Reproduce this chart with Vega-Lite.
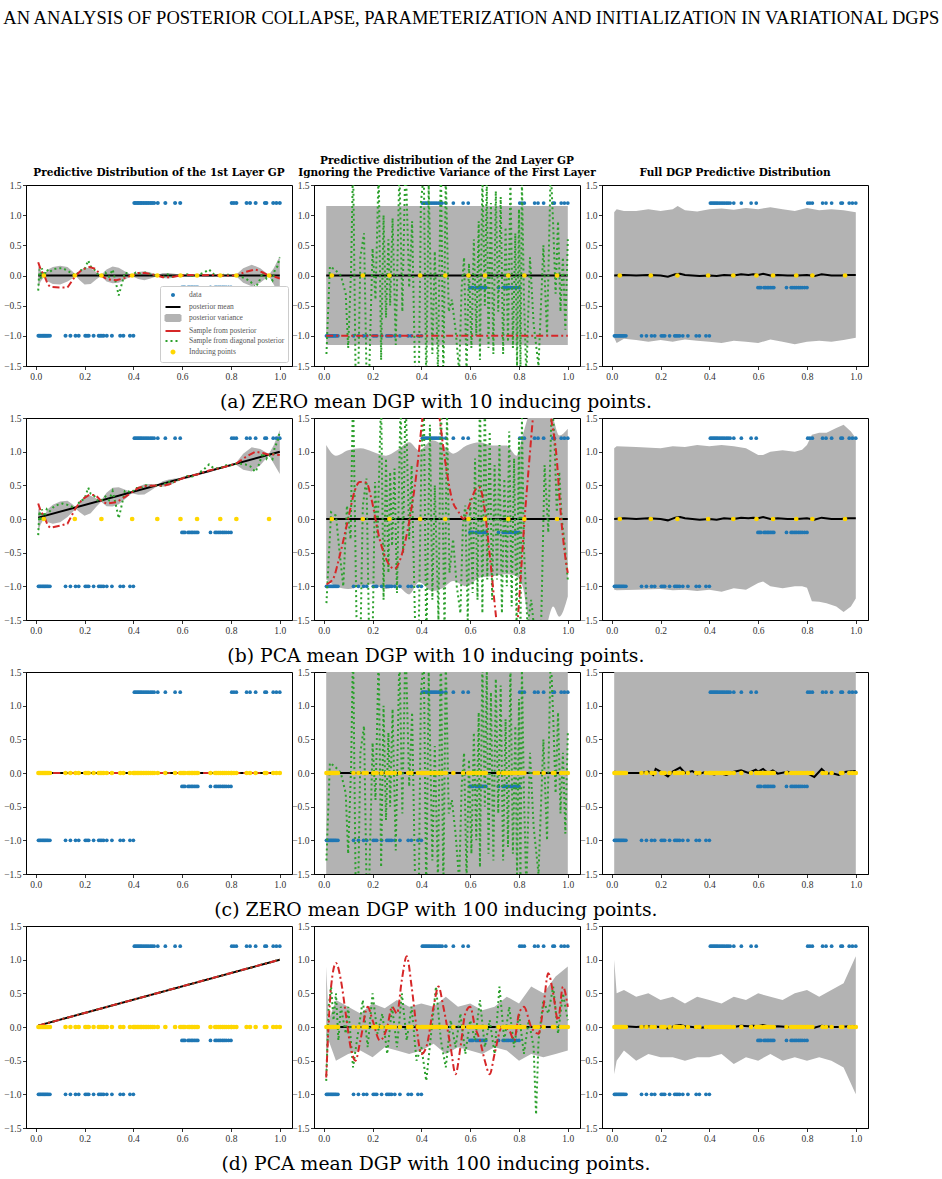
{
"$schema": "https://vega.github.io/schema/vega-lite/v6.json",
"background": "white",
"padding": {"left": 3, "top": 8, "right": 5, "bottom": 2},
"title": {"text": "AN ANALYSIS OF POSTERIOR COLLAPSE, PARAMETERIZATION AND INITIALIZATION IN VARIATIONAL DGPS", "font": "Liberation Serif", "fontSize": 18.5, "fontWeight": "normal", "anchor": "start", "offset": 128},
"spacing": 0,
"resolve": {"legend": {"fill": "independent", "stroke": "independent", "shape": "independent", "strokeDash": "independent"}},
"vconcat": [
{"title": {"text": "(a) ZERO mean DGP with 10 inducing points.", "orient": "bottom", "anchor": "middle", "font": "DejaVu Serif", "fontSize": 18.8, "fontWeight": "normal", "offset": 12},
 "bounds": "flush", "spacing": 22,
 "resolve": {"legend": {"fill": "independent", "stroke": "independent", "shape": "independent", "strokeDash": "independent"}},
 "hconcat": [
  {"width": 266, "height": 181, "title": {"text": "Predictive Distribution of the 1st Layer GP"},
   "encoding": {"x": {"field": "x", "type": "quantitative", "title": null, "scale": {"domain": [-0.04, 1.05], "nice": false, "zero": false}, "axis": {"values": [0, 0.2, 0.4, 0.6, 0.8, 1], "format": ".1f"}},
                "y": {"field": "y", "type": "quantitative", "title": null, "scale": {"domain": [-1.5, 1.5], "nice": false, "zero": false}, "axis": {"values": [-1.5, -1, -0.5, 0, 0.5, 1, 1.5], "format": ".1f"}}},
   "layer": [
    {"data": {"name": "a1_band"}, "mark": {"type": "area", "color": "#b3b3b3", "opacity": 1, "clip": true}, "encoding": {"y": {"field": "lo", "type": "quantitative", "title": null, "scale": {"domain": [-1.5, 1.5], "nice": false, "zero": false}}, "y2": {"field": "hi"}}},
    {"data": {"name": "obs"}, "mark": {"type": "point", "filled": true, "opacity": 1, "size": 100},
     "encoding": {
      "fill": {"field": "s", "type": "nominal", "scale": {"domain": ["data", "posterior mean", "posterior variance", "Sample from posterior", "Sample from diagonal posterior", "Inducing points"], "range": ["#1f77b4", "#000000", "#b3b3b3", "#d62728", "#2ca02c", "#ffd700"]}, "legend": {"title": null}},
      "stroke": {"field": "s", "type": "nominal", "scale": {"domain": ["data", "posterior mean", "posterior variance", "Sample from posterior", "Sample from diagonal posterior", "Inducing points"], "range": ["transparent", "#000000", "#b3b3b3", "#d62728", "#2ca02c", "transparent"]}, "legend": {"title": null}},
      "shape": {"field": "s", "type": "nominal", "scale": {"domain": ["data", "posterior mean", "posterior variance", "Sample from posterior", "Sample from diagonal posterior", "Inducing points"], "range": ["M0.4,0A0.4,0.4,0,1,1,-0.4,0A0.4,0.4,0,1,1,0.4,0Z", "M-1.5,0L1.5,0", "M-1.5,-0.6L1.5,-0.6L1.5,0.6L-1.5,0.6Z", "M-1.5,0L1.5,0", "M-1.5,0L1.5,0", "M0.5,0A0.5,0.5,0,1,1,-0.5,0A0.5,0.5,0,1,1,0.5,0Z"]}, "legend": {"title": null}},
      "strokeDash": {"field": "s", "type": "nominal", "scale": {"domain": ["data", "posterior mean", "posterior variance", "Sample from posterior", "Sample from diagonal posterior", "Inducing points"], "range": [[1, 0], [1, 0], [1, 0], [1, 0], [2, 3], [1, 0]]}, "legend": {"title": null}}
     }},
    {"data": {"name": "zero"}, "mark": {"type": "line", "color": "black", "strokeWidth": 2, "clip": true}, "encoding": {}},
    {"data": {"name": "a1_green"}, "mark": {"type": "line", "color": "#2ca02c", "strokeWidth": 2, "strokeDash": [2, 3], "clip": true}, "encoding": {}},
    {"data": {"name": "a1_red"}, "mark": {"type": "line", "color": "#d62728", "strokeWidth": 2, "strokeDash": [7, 3, 2, 3], "clip": true}, "encoding": {}},
    {"data": {"name": "ind10"}, "mark": {"type": "point", "shape": "circle", "filled": true, "color": "#ffd700", "opacity": 1, "size": 22}}
   ]},
  {"width": 266, "height": 181, "title": {"text": ["Predictive distribution of the 2nd Layer GP", "Ignoring the Predictive Variance of the First Layer"], "lineHeight": 12},
   "encoding": {"x": {"field": "x", "type": "quantitative", "title": null, "scale": {"domain": [-0.04, 1.05], "nice": false, "zero": false}, "axis": {"values": [0, 0.2, 0.4, 0.6, 0.8, 1], "format": ".1f"}},
                "y": {"field": "y", "type": "quantitative", "title": null, "scale": {"domain": [-1.5, 1.5], "nice": false, "zero": false}, "axis": {"values": [-1.5, -1, -0.5, 0, 0.5, 1, 1.5], "format": ".1f"}}},
   "layer": [
    {"data": {"name": "a2_band"}, "mark": {"type": "area", "color": "#b3b3b3", "opacity": 1, "clip": true}, "encoding": {"y": {"field": "lo", "type": "quantitative", "title": null, "scale": {"domain": [-1.5, 1.5], "nice": false, "zero": false}}, "y2": {"field": "hi"}}},
    {"data": {"name": "obs"}, "mark": {"type": "point", "shape": "circle", "filled": true, "color": "#1f77b4", "opacity": 1, "size": 14}},
    {"data": {"name": "zero"}, "mark": {"type": "line", "color": "black", "strokeWidth": 2, "clip": true}, "encoding": {}},
    {"data": {"name": "wild1"}, "mark": {"type": "line", "color": "#2ca02c", "strokeWidth": 2, "strokeDash": [2, 3], "clip": true}, "encoding": {}},
    {"data": {"name": "a2_red"}, "mark": {"type": "line", "color": "#d62728", "strokeWidth": 2, "strokeDash": [7, 3, 2, 3], "clip": true}, "encoding": {}},
    {"data": {"name": "ind10"}, "mark": {"type": "point", "shape": "circle", "filled": true, "color": "#ffd700", "opacity": 1, "size": 22}}
   ]},
  {"width": 266, "height": 181, "title": {"text": "Full DGP Predictive Distribution"},
   "encoding": {"x": {"field": "x", "type": "quantitative", "title": null, "scale": {"domain": [-0.04, 1.05], "nice": false, "zero": false}, "axis": {"values": [0, 0.2, 0.4, 0.6, 0.8, 1], "format": ".1f"}},
                "y": {"field": "y", "type": "quantitative", "title": null, "scale": {"domain": [-1.5, 1.5], "nice": false, "zero": false}, "axis": {"values": [-1.5, -1, -0.5, 0, 0.5, 1, 1.5], "format": ".1f"}}},
   "layer": [
    {"data": {"name": "a3_band"}, "mark": {"type": "area", "color": "#b3b3b3", "opacity": 1, "clip": true}, "encoding": {"y": {"field": "lo", "type": "quantitative", "title": null, "scale": {"domain": [-1.5, 1.5], "nice": false, "zero": false}}, "y2": {"field": "hi"}}},
    {"data": {"name": "obs"}, "mark": {"type": "point", "shape": "circle", "filled": true, "color": "#1f77b4", "opacity": 1, "size": 14}},
    {"data": {"name": "a3_mean"}, "mark": {"type": "line", "color": "black", "strokeWidth": 2, "clip": true}, "encoding": {}},
    {"data": {"name": "ind10"}, "mark": {"type": "point", "shape": "circle", "filled": true, "color": "#ffd700", "opacity": 1, "size": 22}}
   ]}
 ]},
{"title": {"text": "(b) PCA mean DGP with 10 inducing points.", "orient": "bottom", "anchor": "middle", "font": "DejaVu Serif", "fontSize": 18.8, "fontWeight": "normal", "offset": 12},
 "bounds": "flush", "spacing": 22,
 "hconcat": [
  {"width": 266, "height": 202,
   "encoding": {"x": {"field": "x", "type": "quantitative", "title": null, "scale": {"domain": [-0.04, 1.05], "nice": false, "zero": false}, "axis": {"values": [0, 0.2, 0.4, 0.6, 0.8, 1], "format": ".1f"}},
                "y": {"field": "y", "type": "quantitative", "title": null, "scale": {"domain": [-1.5, 1.5], "nice": false, "zero": false}, "axis": {"values": [-1.5, -1, -0.5, 0, 0.5, 1, 1.5], "format": ".1f"}}},
   "layer": [
    {"data": {"name": "b1_band"}, "mark": {"type": "area", "color": "#b3b3b3", "opacity": 1, "clip": true}, "encoding": {"y": {"field": "lo", "type": "quantitative", "title": null, "scale": {"domain": [-1.5, 1.5], "nice": false, "zero": false}}, "y2": {"field": "hi"}}},
    {"data": {"name": "obs"}, "mark": {"type": "point", "shape": "circle", "filled": true, "color": "#1f77b4", "opacity": 1, "size": 14}},
    {"data": {"name": "lin"}, "mark": {"type": "line", "color": "black", "strokeWidth": 2, "clip": true}, "encoding": {}},
    {"data": {"name": "b1_green"}, "mark": {"type": "line", "color": "#2ca02c", "strokeWidth": 2, "strokeDash": [2, 3], "clip": true}, "encoding": {}},
    {"data": {"name": "b1_red"}, "mark": {"type": "line", "color": "#d62728", "strokeWidth": 2, "strokeDash": [7, 3, 2, 3], "clip": true}, "encoding": {}},
    {"data": {"name": "ind10"}, "mark": {"type": "point", "shape": "circle", "filled": true, "color": "#ffd700", "opacity": 1, "size": 22}}
   ]},
  {"width": 266, "height": 202,
   "encoding": {"x": {"field": "x", "type": "quantitative", "title": null, "scale": {"domain": [-0.04, 1.05], "nice": false, "zero": false}, "axis": {"values": [0, 0.2, 0.4, 0.6, 0.8, 1], "format": ".1f"}},
                "y": {"field": "y", "type": "quantitative", "title": null, "scale": {"domain": [-1.5, 1.5], "nice": false, "zero": false}, "axis": {"values": [-1.5, -1, -0.5, 0, 0.5, 1, 1.5], "format": ".1f"}}},
   "layer": [
    {"data": {"name": "b2_band"}, "mark": {"type": "area", "color": "#b3b3b3", "opacity": 1, "clip": true, "interpolate": "monotone"}, "encoding": {"y": {"field": "lo", "type": "quantitative", "title": null, "scale": {"domain": [-1.5, 1.5], "nice": false, "zero": false}}, "y2": {"field": "hi"}}},
    {"data": {"name": "obs"}, "mark": {"type": "point", "shape": "circle", "filled": true, "color": "#1f77b4", "opacity": 1, "size": 14}},
    {"data": {"name": "zero"}, "mark": {"type": "line", "color": "black", "strokeWidth": 2, "clip": true}, "encoding": {}},
    {"data": {"name": "wild2"}, "mark": {"type": "line", "color": "#2ca02c", "strokeWidth": 2, "strokeDash": [2, 3], "clip": true}, "encoding": {}},
    {"data": {"name": "b2_red"}, "mark": {"type": "line", "color": "#d62728", "strokeWidth": 2, "strokeDash": [7, 3, 2, 3], "clip": true, "interpolate": "monotone"}, "encoding": {}},
    {"data": {"name": "ind10"}, "mark": {"type": "point", "shape": "circle", "filled": true, "color": "#ffd700", "opacity": 1, "size": 22}}
   ]},
  {"width": 266, "height": 202,
   "encoding": {"x": {"field": "x", "type": "quantitative", "title": null, "scale": {"domain": [-0.04, 1.05], "nice": false, "zero": false}, "axis": {"values": [0, 0.2, 0.4, 0.6, 0.8, 1], "format": ".1f"}},
                "y": {"field": "y", "type": "quantitative", "title": null, "scale": {"domain": [-1.5, 1.5], "nice": false, "zero": false}, "axis": {"values": [-1.5, -1, -0.5, 0, 0.5, 1, 1.5], "format": ".1f"}}},
   "layer": [
    {"data": {"name": "b3_band"}, "mark": {"type": "area", "color": "#b3b3b3", "opacity": 1, "clip": true}, "encoding": {"y": {"field": "lo", "type": "quantitative", "title": null, "scale": {"domain": [-1.5, 1.5], "nice": false, "zero": false}}, "y2": {"field": "hi"}}},
    {"data": {"name": "obs"}, "mark": {"type": "point", "shape": "circle", "filled": true, "color": "#1f77b4", "opacity": 1, "size": 14}},
    {"data": {"name": "a3_mean"}, "mark": {"type": "line", "color": "black", "strokeWidth": 2, "clip": true}, "encoding": {}},
    {"data": {"name": "ind10"}, "mark": {"type": "point", "shape": "circle", "filled": true, "color": "#ffd700", "opacity": 1, "size": 22}}
   ]}
 ]},
{"title": {"text": "(c) ZERO mean DGP with 100 inducing points.", "orient": "bottom", "anchor": "middle", "font": "DejaVu Serif", "fontSize": 18.8, "fontWeight": "normal", "offset": 12},
 "bounds": "flush", "spacing": 22,
 "hconcat": [
  {"width": 266, "height": 202,
   "encoding": {"x": {"field": "x", "type": "quantitative", "title": null, "scale": {"domain": [-0.04, 1.05], "nice": false, "zero": false}, "axis": {"values": [0, 0.2, 0.4, 0.6, 0.8, 1], "format": ".1f"}},
                "y": {"field": "y", "type": "quantitative", "title": null, "scale": {"domain": [-1.5, 1.5], "nice": false, "zero": false}, "axis": {"values": [-1.5, -1, -0.5, 0, 0.5, 1, 1.5], "format": ".1f"}}},
   "layer": [
    {"data": {"name": "obs"}, "mark": {"type": "point", "shape": "circle", "filled": true, "color": "#1f77b4", "opacity": 1, "size": 14}},
    {"data": {"name": "zero"}, "mark": {"type": "line", "color": "black", "strokeWidth": 2, "clip": true}, "encoding": {}},
    {"data": {"name": "zero"}, "mark": {"type": "line", "color": "#2ca02c", "strokeWidth": 2, "strokeDash": [2, 3], "clip": true}, "encoding": {}},
    {"data": {"name": "zero"}, "mark": {"type": "line", "color": "#d62728", "strokeWidth": 2, "strokeDash": [7, 3, 2, 3], "clip": true}, "encoding": {}},
    {"data": {"name": "ind100"}, "mark": {"type": "point", "shape": "circle", "filled": true, "color": "#ffd700", "opacity": 1, "size": 22}}
   ]},
  {"width": 266, "height": 202,
   "encoding": {"x": {"field": "x", "type": "quantitative", "title": null, "scale": {"domain": [-0.04, 1.05], "nice": false, "zero": false}, "axis": {"values": [0, 0.2, 0.4, 0.6, 0.8, 1], "format": ".1f"}},
                "y": {"field": "y", "type": "quantitative", "title": null, "scale": {"domain": [-1.5, 1.5], "nice": false, "zero": false}, "axis": {"values": [-1.5, -1, -0.5, 0, 0.5, 1, 1.5], "format": ".1f"}}},
   "layer": [
    {"data": {"name": "full_band"}, "mark": {"type": "area", "color": "#b3b3b3", "opacity": 1, "clip": true}, "encoding": {"y": {"field": "lo", "type": "quantitative", "title": null, "scale": {"domain": [-1.5, 1.5], "nice": false, "zero": false}}, "y2": {"field": "hi"}}},
    {"data": {"name": "obs"}, "mark": {"type": "point", "shape": "circle", "filled": true, "color": "#1f77b4", "opacity": 1, "size": 14}},
    {"data": {"name": "zero"}, "mark": {"type": "line", "color": "black", "strokeWidth": 2, "clip": true}, "encoding": {}},
    {"data": {"name": "wild1"}, "mark": {"type": "line", "color": "#2ca02c", "strokeWidth": 2, "strokeDash": [2, 3], "clip": true}, "encoding": {}},
    {"data": {"name": "ind100"}, "mark": {"type": "point", "shape": "circle", "filled": true, "color": "#ffd700", "opacity": 1, "size": 22}}
   ]},
  {"width": 266, "height": 202,
   "encoding": {"x": {"field": "x", "type": "quantitative", "title": null, "scale": {"domain": [-0.04, 1.05], "nice": false, "zero": false}, "axis": {"values": [0, 0.2, 0.4, 0.6, 0.8, 1], "format": ".1f"}},
                "y": {"field": "y", "type": "quantitative", "title": null, "scale": {"domain": [-1.5, 1.5], "nice": false, "zero": false}, "axis": {"values": [-1.5, -1, -0.5, 0, 0.5, 1, 1.5], "format": ".1f"}}},
   "layer": [
    {"data": {"name": "full_band"}, "mark": {"type": "area", "color": "#b3b3b3", "opacity": 1, "clip": true}, "encoding": {"y": {"field": "lo", "type": "quantitative", "title": null, "scale": {"domain": [-1.5, 1.5], "nice": false, "zero": false}}, "y2": {"field": "hi"}}},
    {"data": {"name": "obs"}, "mark": {"type": "point", "shape": "circle", "filled": true, "color": "#1f77b4", "opacity": 1, "size": 14}},
    {"data": {"name": "c3_mean"}, "mark": {"type": "line", "color": "black", "strokeWidth": 2, "clip": true}, "encoding": {}},
    {"data": {"name": "ind100"}, "mark": {"type": "point", "shape": "circle", "filled": true, "color": "#ffd700", "opacity": 1, "size": 22}}
   ]}
 ]},
{"title": {"text": "(d) PCA mean DGP with 100 inducing points.", "orient": "bottom", "anchor": "middle", "font": "DejaVu Serif", "fontSize": 18.8, "fontWeight": "normal", "offset": 12},
 "bounds": "flush", "spacing": 22,
 "hconcat": [
  {"width": 266, "height": 202,
   "encoding": {"x": {"field": "x", "type": "quantitative", "title": null, "scale": {"domain": [-0.04, 1.05], "nice": false, "zero": false}, "axis": {"values": [0, 0.2, 0.4, 0.6, 0.8, 1], "format": ".1f"}},
                "y": {"field": "y", "type": "quantitative", "title": null, "scale": {"domain": [-1.5, 1.5], "nice": false, "zero": false}, "axis": {"values": [-1.5, -1, -0.5, 0, 0.5, 1, 1.5], "format": ".1f"}}},
   "layer": [
    {"data": {"name": "obs"}, "mark": {"type": "point", "shape": "circle", "filled": true, "color": "#1f77b4", "opacity": 1, "size": 14}},
    {"data": {"name": "lin"}, "mark": {"type": "line", "color": "black", "strokeWidth": 2, "clip": true}, "encoding": {}},
    {"data": {"name": "lin"}, "mark": {"type": "line", "color": "#2ca02c", "strokeWidth": 2, "strokeDash": [2, 3], "clip": true}, "encoding": {}},
    {"data": {"name": "lin"}, "mark": {"type": "line", "color": "#d62728", "strokeWidth": 2, "strokeDash": [7, 3, 2, 3], "clip": true}, "encoding": {}},
    {"data": {"name": "ind100"}, "mark": {"type": "point", "shape": "circle", "filled": true, "color": "#ffd700", "opacity": 1, "size": 22}}
   ]},
  {"width": 266, "height": 202,
   "encoding": {"x": {"field": "x", "type": "quantitative", "title": null, "scale": {"domain": [-0.04, 1.05], "nice": false, "zero": false}, "axis": {"values": [0, 0.2, 0.4, 0.6, 0.8, 1], "format": ".1f"}},
                "y": {"field": "y", "type": "quantitative", "title": null, "scale": {"domain": [-1.5, 1.5], "nice": false, "zero": false}, "axis": {"values": [-1.5, -1, -0.5, 0, 0.5, 1, 1.5], "format": ".1f"}}},
   "layer": [
    {"data": {"name": "d2_band"}, "mark": {"type": "area", "color": "#b3b3b3", "opacity": 1, "clip": true}, "encoding": {"y": {"field": "lo", "type": "quantitative", "title": null, "scale": {"domain": [-1.5, 1.5], "nice": false, "zero": false}}, "y2": {"field": "hi"}}},
    {"data": {"name": "obs"}, "mark": {"type": "point", "shape": "circle", "filled": true, "color": "#1f77b4", "opacity": 1, "size": 14}},
    {"data": {"name": "zero"}, "mark": {"type": "line", "color": "black", "strokeWidth": 2, "clip": true}, "encoding": {}},
    {"data": {"name": "d2_green"}, "mark": {"type": "line", "color": "#2ca02c", "strokeWidth": 2, "strokeDash": [2, 3], "clip": true}, "encoding": {}},
    {"data": {"name": "d2_red"}, "mark": {"type": "line", "color": "#d62728", "strokeWidth": 2, "strokeDash": [7, 3, 2, 3], "clip": true, "interpolate": "monotone"}, "encoding": {}},
    {"data": {"name": "ind100"}, "mark": {"type": "point", "shape": "circle", "filled": true, "color": "#ffd700", "opacity": 1, "size": 22}}
   ]},
  {"width": 266, "height": 202,
   "encoding": {"x": {"field": "x", "type": "quantitative", "title": null, "scale": {"domain": [-0.04, 1.05], "nice": false, "zero": false}, "axis": {"values": [0, 0.2, 0.4, 0.6, 0.8, 1], "format": ".1f"}},
                "y": {"field": "y", "type": "quantitative", "title": null, "scale": {"domain": [-1.5, 1.5], "nice": false, "zero": false}, "axis": {"values": [-1.5, -1, -0.5, 0, 0.5, 1, 1.5], "format": ".1f"}}},
   "layer": [
    {"data": {"name": "d3_band"}, "mark": {"type": "area", "color": "#b3b3b3", "opacity": 1, "clip": true}, "encoding": {"y": {"field": "lo", "type": "quantitative", "title": null, "scale": {"domain": [-1.5, 1.5], "nice": false, "zero": false}}, "y2": {"field": "hi"}}},
    {"data": {"name": "obs"}, "mark": {"type": "point", "shape": "circle", "filled": true, "color": "#1f77b4", "opacity": 1, "size": 14}},
    {"data": {"name": "a3_mean"}, "mark": {"type": "line", "color": "black", "strokeWidth": 2, "clip": true}, "encoding": {}},
    {"data": {"name": "ind100"}, "mark": {"type": "point", "shape": "circle", "filled": true, "color": "#ffd700", "opacity": 1, "size": 22}}
   ]}
 ]}
],
"datasets": {
"obs": [
{"x":0.011,"y":-1,"s":"data"},{"x":0.016,"y":-1,"s":"data"},{"x":0.021,"y":-1,"s":"data"},{"x":0.026,"y":-1,"s":"data"},{"x":0.031,"y":-1,"s":"data"},{"x":0.036,"y":-1,"s":"data"},{"x":0.041,"y":-1,"s":"data"},{"x":0.046,"y":-1,"s":"data"},{"x":0.051,"y":-1,"s":"data"},{"x":0.058,"y":-1,"s":"data"},{"x":0.122,"y":-1,"s":"data"},{"x":0.142,"y":-1,"s":"data"},{"x":0.163,"y":-1,"s":"data"},{"x":0.176,"y":-1,"s":"data"},{"x":0.203,"y":-1,"s":"data"},{"x":0.21,"y":-1,"s":"data"},{"x":0.217,"y":-1,"s":"data"},{"x":0.237,"y":-1,"s":"data"},{"x":0.258,"y":-1,"s":"data"},{"x":0.264,"y":-1,"s":"data"},{"x":0.271,"y":-1,"s":"data"},{"x":0.278,"y":-1,"s":"data"},{"x":0.291,"y":-1,"s":"data"},{"x":0.312,"y":-1,"s":"data"},{"x":0.346,"y":-1,"s":"data"},{"x":0.359,"y":-1,"s":"data"},{"x":0.386,"y":-1,"s":"data"},{"x":0.4,"y":-1,"s":"data"},
{"x":0.404,"y":1.2,"s":"data"},{"x":0.41,"y":1.2,"s":"data"},{"x":0.416,"y":1.2,"s":"data"},{"x":0.422,"y":1.2,"s":"data"},{"x":0.428,"y":1.2,"s":"data"},{"x":0.434,"y":1.2,"s":"data"},{"x":0.441,"y":1.2,"s":"data"},{"x":0.448,"y":1.2,"s":"data"},{"x":0.455,"y":1.2,"s":"data"},{"x":0.462,"y":1.2,"s":"data"},{"x":0.47,"y":1.2,"s":"data"},{"x":0.477,"y":1.2,"s":"data"},{"x":0.485,"y":1.2,"s":"data"},{"x":0.5,"y":1.2,"s":"data"},{"x":0.531,"y":1.2,"s":"data"},{"x":0.571,"y":1.2,"s":"data"},{"x":0.592,"y":1.2,"s":"data"},
{"x":0.599,"y":-0.2,"s":"data"},{"x":0.605,"y":-0.2,"s":"data"},{"x":0.611,"y":-0.2,"s":"data"},{"x":0.624,"y":-0.2,"s":"data"},{"x":0.63,"y":-0.2,"s":"data"},{"x":0.637,"y":-0.2,"s":"data"},{"x":0.643,"y":-0.2,"s":"data"},{"x":0.65,"y":-0.2,"s":"data"},{"x":0.657,"y":-0.2,"s":"data"},{"x":0.664,"y":-0.2,"s":"data"},{"x":0.716,"y":-0.2,"s":"data"},{"x":0.735,"y":-0.2,"s":"data"},{"x":0.742,"y":-0.2,"s":"data"},{"x":0.75,"y":-0.2,"s":"data"},{"x":0.757,"y":-0.2,"s":"data"},{"x":0.765,"y":-0.2,"s":"data"},{"x":0.772,"y":-0.2,"s":"data"},{"x":0.78,"y":-0.2,"s":"data"},{"x":0.79,"y":-0.2,"s":"data"},{"x":0.8,"y":-0.2,"s":"data"},
{"x":0.803,"y":1.2,"s":"data"},{"x":0.812,"y":1.2,"s":"data"},{"x":0.822,"y":1.2,"s":"data"},{"x":0.864,"y":1.2,"s":"data"},{"x":0.878,"y":1.2,"s":"data"},{"x":0.901,"y":1.2,"s":"data"},{"x":0.939,"y":1.2,"s":"data"},{"x":0.945,"y":1.2,"s":"data"},{"x":0.973,"y":1.2,"s":"data"},{"x":0.986,"y":1.2,"s":"data"},{"x":1.0,"y":1.2,"s":"data"}
],
"ind10": [{"x":0.033,"y":0},{"x":0.16,"y":0},{"x":0.269,"y":0},{"x":0.395,"y":0},{"x":0.498,"y":0},{"x":0.593,"y":0},{"x":0.661,"y":0},{"x":0.756,"y":0},{"x":0.822,"y":0},{"x":0.956,"y":0}],
"ind100": [
{"x":0.011,"y":0},{"x":0.016,"y":0},{"x":0.021,"y":0},{"x":0.026,"y":0},{"x":0.031,"y":0},{"x":0.036,"y":0},{"x":0.041,"y":0},{"x":0.046,"y":0},{"x":0.051,"y":0},{"x":0.058,"y":0},{"x":0.122,"y":0},{"x":0.142,"y":0},{"x":0.163,"y":0},{"x":0.176,"y":0},{"x":0.203,"y":0},{"x":0.21,"y":0},{"x":0.217,"y":0},{"x":0.237,"y":0},{"x":0.258,"y":0},{"x":0.264,"y":0},{"x":0.271,"y":0},{"x":0.278,"y":0},{"x":0.291,"y":0},{"x":0.312,"y":0},{"x":0.346,"y":0},{"x":0.359,"y":0},{"x":0.386,"y":0},{"x":0.4,"y":0},
{"x":0.404,"y":0},{"x":0.41,"y":0},{"x":0.416,"y":0},{"x":0.422,"y":0},{"x":0.428,"y":0},{"x":0.434,"y":0},{"x":0.441,"y":0},{"x":0.448,"y":0},{"x":0.455,"y":0},{"x":0.462,"y":0},{"x":0.47,"y":0},{"x":0.477,"y":0},{"x":0.485,"y":0},{"x":0.5,"y":0},{"x":0.531,"y":0},{"x":0.571,"y":0},{"x":0.592,"y":0},
{"x":0.599,"y":0},{"x":0.605,"y":0},{"x":0.611,"y":0},{"x":0.624,"y":0},{"x":0.63,"y":0},{"x":0.637,"y":0},{"x":0.643,"y":0},{"x":0.65,"y":0},{"x":0.657,"y":0},{"x":0.664,"y":0},{"x":0.716,"y":0},{"x":0.735,"y":0},{"x":0.742,"y":0},{"x":0.75,"y":0},{"x":0.757,"y":0},{"x":0.765,"y":0},{"x":0.772,"y":0},{"x":0.78,"y":0},{"x":0.79,"y":0},{"x":0.8,"y":0},
{"x":0.803,"y":0},{"x":0.812,"y":0},{"x":0.822,"y":0},{"x":0.864,"y":0},{"x":0.878,"y":0},{"x":0.901,"y":0},{"x":0.939,"y":0},{"x":0.945,"y":0},{"x":0.973,"y":0},{"x":0.986,"y":0},{"x":1.0,"y":0}
],
"zero": [{"x":0.01,"y":0},{"x":1.0,"y":0}],
"lin": [{"x":0.01,"y":0.02},{"x":1.0,"y":1.0}],
"a1_band": [
{"x":0.01,"lo":-0.2,"hi":0.15},{"x":0.02,"lo":-0.1,"hi":0.08},{"x":0.035,"lo":-0.02,"hi":0.02},{"x":0.05,"lo":-0.1,"hi":0.1},{"x":0.07,"lo":-0.14,"hi":0.14},{"x":0.1,"lo":-0.15,"hi":0.16},{"x":0.13,"lo":-0.1,"hi":0.14},{"x":0.15,"lo":-0.05,"hi":0.07},{"x":0.164,"lo":-0.01,"hi":0.01},{"x":0.18,"lo":-0.08,"hi":0.08},{"x":0.2,"lo":-0.15,"hi":0.13},{"x":0.225,"lo":-0.14,"hi":0.12},{"x":0.25,"lo":-0.06,"hi":0.05},{"x":0.268,"lo":-0.01,"hi":0.01},{"x":0.29,"lo":-0.1,"hi":0.1},{"x":0.315,"lo":-0.13,"hi":0.15},{"x":0.34,"lo":-0.12,"hi":0.13},{"x":0.37,"lo":-0.06,"hi":0.06},{"x":0.393,"lo":-0.01,"hi":0.01},{"x":0.42,"lo":-0.06,"hi":0.06},{"x":0.445,"lo":-0.08,"hi":0.07},{"x":0.47,"lo":-0.05,"hi":0.05},{"x":0.499,"lo":-0.01,"hi":0.01},{"x":0.52,"lo":-0.04,"hi":0.04},{"x":0.545,"lo":-0.05,"hi":0.04},{"x":0.57,"lo":-0.03,"hi":0.03},{"x":0.593,"lo":-0.01,"hi":0.01},{"x":0.627,"lo":-0.02,"hi":0.02},{"x":0.661,"lo":-0.01,"hi":0.01},{"x":0.71,"lo":-0.02,"hi":0.02},{"x":0.756,"lo":-0.01,"hi":0.01},{"x":0.79,"lo":-0.015,"hi":0.015},{"x":0.82,"lo":-0.01,"hi":0.01},{"x":0.85,"lo":-0.12,"hi":0.12},{"x":0.885,"lo":-0.18,"hi":0.18},{"x":0.92,"lo":-0.12,"hi":0.12},{"x":0.955,"lo":-0.01,"hi":0.01},{"x":0.975,"lo":-0.15,"hi":0.12},{"x":1.0,"lo":-0.33,"hi":0.32}
],
"a1_red": [
{"x":0.01,"y":0.22},{"x":0.02,"y":0.1},{"x":0.035,"y":0.0},{"x":0.05,"y":-0.15},{"x":0.06,"y":-0.19},{"x":0.1,"y":-0.2},{"x":0.13,"y":-0.2},{"x":0.15,"y":-0.08},{"x":0.164,"y":0.0},{"x":0.19,"y":0.1},{"x":0.22,"y":0.14},{"x":0.245,"y":0.11},{"x":0.268,"y":0.0},{"x":0.29,"y":-0.06},{"x":0.33,"y":-0.08},{"x":0.365,"y":-0.04},{"x":0.393,"y":0.0},{"x":0.42,"y":0.04},{"x":0.45,"y":0.04},{"x":0.475,"y":0.02},{"x":0.499,"y":0.0},{"x":0.52,"y":-0.03},{"x":0.55,"y":-0.03},{"x":0.593,"y":0.0},{"x":0.63,"y":0.01},{"x":0.661,"y":0.0},{"x":0.71,"y":0.01},{"x":0.756,"y":0.0},{"x":0.79,"y":0.0},{"x":0.82,"y":0.0},{"x":0.86,"y":0.06},{"x":0.9,"y":0.1},{"x":0.93,"y":0.05},{"x":0.955,"y":0.0},{"x":0.98,"y":-0.02},{"x":1.0,"y":-0.05}
],
"a1_green": [
{"x":0.01,"y":-0.25},{"x":0.015,"y":0.1},{"x":0.02,"y":-0.05},{"x":0.025,"y":0.12},{"x":0.035,"y":0.0},{"x":0.045,"y":0.1},{"x":0.055,"y":0.05},{"x":0.07,"y":0.1},{"x":0.09,"y":0.12},{"x":0.11,"y":0.12},{"x":0.13,"y":0.08},{"x":0.15,"y":0.03},{"x":0.164,"y":0.0},{"x":0.18,"y":0.08},{"x":0.2,"y":0.1},{"x":0.215,"y":0.25},{"x":0.225,"y":0.15},{"x":0.24,"y":0.1},{"x":0.255,"y":0.02},{"x":0.268,"y":0.0},{"x":0.285,"y":0.05},{"x":0.3,"y":-0.02},{"x":0.315,"y":0.1},{"x":0.33,"y":-0.15},{"x":0.34,"y":-0.33},{"x":0.35,"y":-0.18},{"x":0.365,"y":0.05},{"x":0.38,"y":0.03},{"x":0.393,"y":0.0},{"x":0.41,"y":0.05},{"x":0.43,"y":0.03},{"x":0.45,"y":0.05},{"x":0.47,"y":0.02},{"x":0.499,"y":0.0},{"x":0.52,"y":-0.03},{"x":0.54,"y":0.02},{"x":0.56,"y":-0.02},{"x":0.593,"y":0.0},{"x":0.62,"y":0.02},{"x":0.64,"y":-0.01},{"x":0.661,"y":0.0},{"x":0.69,"y":0.05},{"x":0.71,"y":0.1},{"x":0.73,"y":0.02},{"x":0.756,"y":0.0},{"x":0.78,"y":0.02},{"x":0.8,"y":0.0},{"x":0.82,"y":0.0},{"x":0.84,"y":-0.02},{"x":0.86,"y":-0.05},{"x":0.88,"y":-0.1},{"x":0.9,"y":-0.2},{"x":0.915,"y":-0.1},{"x":0.93,"y":0.05},{"x":0.945,"y":-0.05},{"x":0.955,"y":0.0},{"x":0.97,"y":-0.08},{"x":0.98,"y":0.1},{"x":0.99,"y":0.15},{"x":1.0,"y":0.3}
],
"a2_band": [{"x":0.01,"lo":-1.15,"hi":1.15},{"x":1.0,"lo":-1.15,"hi":1.15}],
"a2_red": [{"x":0.01,"y":-1.0},{"x":1.0,"y":-1.0}],
"wild1": [
{"x":0.011,"y":-1.3},{"x":0.025,"y":0.15},{"x":0.045,"y":0.1},{"x":0.07,"y":0.0},{"x":0.09,"y":-0.3},{"x":0.1,"y":-1.2},{"x":0.112,"y":0.1},{"x":0.12,"y":1.9},{"x":0.13,"y":-1.5},{"x":0.14,"y":-2.0},{"x":0.15,"y":0.3},{"x":0.165,"y":0.7},{"x":0.175,"y":-1.6},{"x":0.185,"y":-1.8},{"x":0.2,"y":0.45},{"x":0.212,"y":-0.4},{"x":0.225,"y":1.8},{"x":0.235,"y":-1.4},{"x":0.245,"y":1.0},{"x":0.255,"y":-0.7},{"x":0.265,"y":0.6},{"x":0.272,"y":-0.5},{"x":0.282,"y":0.95},{"x":0.295,"y":-1.15},{"x":0.31,"y":1.8},{"x":0.322,"y":-0.6},{"x":0.335,"y":2.0},{"x":0.35,"y":-0.2},{"x":0.362,"y":0.9},{"x":0.375,"y":-1.8},{"x":0.39,"y":-1.6},{"x":0.398,"y":1.2},{"x":0.41,"y":1.7},{"x":0.42,"y":-1.9},{"x":0.43,"y":1.5},{"x":0.445,"y":-1.3},{"x":0.455,"y":0.4},{"x":0.468,"y":-1.6},{"x":0.48,"y":1.9},{"x":0.49,"y":-1.8},{"x":0.5,"y":1.7},{"x":0.512,"y":-0.6},{"x":0.525,"y":-0.4},{"x":0.54,"y":-0.9},{"x":0.555,"y":-1.6},{"x":0.565,"y":-0.2},{"x":0.575,"y":0.3},{"x":0.585,"y":-1.6},{"x":0.595,"y":0.2},{"x":0.605,"y":-1.2},{"x":0.615,"y":0.6},{"x":0.625,"y":-1.0},{"x":0.635,"y":0.9},{"x":0.64,"y":-1.4},{"x":0.65,"y":1.7},{"x":0.66,"y":-0.5},{"x":0.668,"y":1.6},{"x":0.675,"y":-1.2},{"x":0.685,"y":1.2},{"x":0.695,"y":-1.3},{"x":0.705,"y":1.4},{"x":0.715,"y":-0.6},{"x":0.725,"y":1.3},{"x":0.735,"y":-1.3},{"x":0.745,"y":0.8},{"x":0.755,"y":-1.1},{"x":0.765,"y":1.6},{"x":0.775,"y":-1.2},{"x":0.785,"y":0.7},{"x":0.792,"y":-1.5},{"x":0.8,"y":1.1},{"x":0.806,"y":-1.6},{"x":0.812,"y":1.6},{"x":0.82,"y":-0.3},{"x":0.83,"y":-1.7},{"x":0.845,"y":0.3},{"x":0.86,"y":-0.8},{"x":0.88,"y":-1.5},{"x":0.9,"y":0.5},{"x":0.915,"y":-1.0},{"x":0.93,"y":1.8},{"x":0.94,"y":0.85},{"x":0.95,"y":-0.3},{"x":0.96,"y":0.9},{"x":0.97,"y":-0.6},{"x":0.98,"y":0.3},{"x":0.99,"y":-0.9},{"x":1.0,"y":0.6}
],
"a3_band": [
{"x":0.01,"lo":-1.03,"hi":1.05},{"x":0.02,"lo":-1.12,"hi":1.1},{"x":0.05,"lo":-1.05,"hi":1.07},{"x":0.1,"lo":-1.07,"hi":1.07},{"x":0.15,"lo":-1.1,"hi":1.1},{"x":0.2,"lo":-1.07,"hi":1.07},{"x":0.25,"lo":-1.1,"hi":1.1},{"x":0.27,"lo":-1.08,"hi":1.15},{"x":0.3,"lo":-1.06,"hi":1.08},{"x":0.35,"lo":-1.08,"hi":1.06},{"x":0.4,"lo":-1.1,"hi":1.1},{"x":0.45,"lo":-1.12,"hi":1.11},{"x":0.5,"lo":-1.08,"hi":1.09},{"x":0.55,"lo":-1.1,"hi":1.12},{"x":0.6,"lo":-1.12,"hi":1.1},{"x":0.65,"lo":-1.06,"hi":1.13},{"x":0.7,"lo":-1.1,"hi":1.1},{"x":0.75,"lo":-1.14,"hi":1.07},{"x":0.8,"lo":-1.1,"hi":1.12},{"x":0.85,"lo":-1.08,"hi":1.08},{"x":0.9,"lo":-1.1,"hi":1.1},{"x":0.95,"lo":-1.07,"hi":1.08},{"x":1.0,"lo":-1.03,"hi":1.05}
],
"a3_mean": [
{"x":0.01,"y":0.0},{"x":0.05,"y":0.01},{"x":0.1,"y":0.0},{"x":0.15,"y":0.01},{"x":0.2,"y":0.0},{"x":0.23,"y":-0.02},{"x":0.26,"y":0.02},{"x":0.28,"y":0.03},{"x":0.3,"y":0.01},{"x":0.33,"y":0.0},{"x":0.36,"y":-0.01},{"x":0.4,"y":0.0},{"x":0.43,"y":-0.01},{"x":0.46,"y":0.01},{"x":0.5,"y":0.0},{"x":0.53,"y":0.02},{"x":0.56,"y":0.01},{"x":0.58,"y":0.02},{"x":0.6,"y":0.01},{"x":0.62,"y":0.03},{"x":0.65,"y":0.0},{"x":0.68,"y":0.01},{"x":0.72,"y":0.0},{"x":0.76,"y":0.0},{"x":0.8,"y":0.01},{"x":0.83,"y":-0.01},{"x":0.86,"y":0.02},{"x":0.9,"y":0.0},{"x":0.94,"y":0.0},{"x":0.97,"y":0.01},{"x":1.0,"y":0.01}
],
"b1_band": [
{"x":0.01,"lo":-0.19,"hi":0.16},{"x":0.02,"lo":-0.08,"hi":0.1},{"x":0.035,"lo":0.015,"hi":0.055},{"x":0.05,"lo":-0.05,"hi":0.15},{"x":0.07,"lo":-0.07,"hi":0.21},{"x":0.1,"lo":-0.05,"hi":0.26},{"x":0.13,"lo":0.03,"hi":0.27},{"x":0.15,"lo":0.1,"hi":0.22},{"x":0.164,"lo":0.154,"hi":0.174},{"x":0.18,"lo":0.1,"hi":0.26},{"x":0.2,"lo":0.05,"hi":0.33},{"x":0.225,"lo":0.085,"hi":0.345},{"x":0.25,"lo":0.19,"hi":0.3},{"x":0.268,"lo":0.258,"hi":0.278},{"x":0.29,"lo":0.19,"hi":0.39},{"x":0.315,"lo":0.185,"hi":0.465},{"x":0.34,"lo":0.22,"hi":0.47},{"x":0.37,"lo":0.31,"hi":0.43},{"x":0.393,"lo":0.383,"hi":0.403},{"x":0.42,"lo":0.36,"hi":0.48},{"x":0.445,"lo":0.365,"hi":0.515},{"x":0.47,"lo":0.42,"hi":0.52},{"x":0.499,"lo":0.489,"hi":0.509},{"x":0.52,"lo":0.48,"hi":0.56},{"x":0.545,"lo":0.495,"hi":0.585},{"x":0.57,"lo":0.54,"hi":0.6},{"x":0.593,"lo":0.583,"hi":0.603},{"x":0.627,"lo":0.607,"hi":0.647},{"x":0.661,"lo":0.651,"hi":0.671},{"x":0.71,"lo":0.69,"hi":0.73},{"x":0.756,"lo":0.746,"hi":0.766},{"x":0.79,"lo":0.775,"hi":0.805},{"x":0.82,"lo":0.81,"hi":0.83},{"x":0.85,"lo":0.73,"hi":0.97},{"x":0.885,"lo":0.705,"hi":1.065},{"x":0.92,"lo":0.8,"hi":1.04},{"x":0.955,"lo":0.945,"hi":0.965},{"x":0.975,"lo":0.825,"hi":1.095},{"x":1.0,"lo":0.67,"hi":1.32}
],
"b1_red": [
{"x":0.01,"y":0.23},{"x":0.02,"y":0.12},{"x":0.035,"y":0.035},{"x":0.05,"y":-0.1},{"x":0.06,"y":-0.13},{"x":0.1,"y":-0.1},{"x":0.13,"y":-0.07},{"x":0.15,"y":0.07},{"x":0.164,"y":0.164},{"x":0.19,"y":0.29},{"x":0.22,"y":0.36},{"x":0.245,"y":0.355},{"x":0.268,"y":0.268},{"x":0.29,"y":0.23},{"x":0.33,"y":0.25},{"x":0.365,"y":0.325},{"x":0.393,"y":0.393},{"x":0.42,"y":0.46},{"x":0.45,"y":0.49},{"x":0.475,"y":0.495},{"x":0.499,"y":0.499},{"x":0.52,"y":0.49},{"x":0.55,"y":0.52},{"x":0.593,"y":0.593},{"x":0.63,"y":0.64},{"x":0.661,"y":0.661},{"x":0.71,"y":0.72},{"x":0.756,"y":0.756},{"x":0.79,"y":0.79},{"x":0.82,"y":0.82},{"x":0.86,"y":0.92},{"x":0.9,"y":1.0},{"x":0.93,"y":0.98},{"x":0.955,"y":0.955},{"x":0.98,"y":0.96},{"x":1.0,"y":0.95}
],
"b1_green": [
{"x":0.01,"y":-0.24},{"x":0.015,"y":0.115},{"x":0.02,"y":-0.03},{"x":0.025,"y":0.145},{"x":0.035,"y":0.035},{"x":0.045,"y":0.145},{"x":0.055,"y":0.105},{"x":0.07,"y":0.17},{"x":0.09,"y":0.21},{"x":0.11,"y":0.23},{"x":0.13,"y":0.21},{"x":0.15,"y":0.18},{"x":0.164,"y":0.164},{"x":0.18,"y":0.26},{"x":0.2,"y":0.3},{"x":0.215,"y":0.465},{"x":0.225,"y":0.375},{"x":0.24,"y":0.34},{"x":0.255,"y":0.275},{"x":0.268,"y":0.268},{"x":0.285,"y":0.335},{"x":0.3,"y":0.28},{"x":0.315,"y":0.415},{"x":0.33,"y":0.18},{"x":0.34,"y":0.01},{"x":0.35,"y":0.17},{"x":0.365,"y":0.415},{"x":0.38,"y":0.41},{"x":0.393,"y":0.393},{"x":0.41,"y":0.46},{"x":0.43,"y":0.46},{"x":0.45,"y":0.5},{"x":0.47,"y":0.49},{"x":0.499,"y":0.499},{"x":0.52,"y":0.49},{"x":0.54,"y":0.56},{"x":0.56,"y":0.54},{"x":0.593,"y":0.593},{"x":0.62,"y":0.64},{"x":0.64,"y":0.63},{"x":0.661,"y":0.661},{"x":0.69,"y":0.74},{"x":0.71,"y":0.81},{"x":0.73,"y":0.75},{"x":0.756,"y":0.756},{"x":0.78,"y":0.8},{"x":0.8,"y":0.8},{"x":0.82,"y":0.82},{"x":0.84,"y":0.82},{"x":0.86,"y":0.81},{"x":0.88,"y":0.78},{"x":0.9,"y":0.7},{"x":0.915,"y":0.815},{"x":0.93,"y":0.98},{"x":0.945,"y":0.895},{"x":0.955,"y":0.955},{"x":0.97,"y":0.89},{"x":0.98,"y":1.08},{"x":0.99,"y":1.14},{"x":1.0,"y":1.3}
],
"b2_band": [
{"x":0.01,"lo":-0.9,"hi":1.1},{"x":0.05,"lo":-1.0,"hi":0.94},{"x":0.1,"lo":-1.04,"hi":1.02},{"x":0.15,"lo":-1.0,"hi":1.05},{"x":0.2,"lo":-0.97,"hi":1.0},{"x":0.255,"lo":-1.04,"hi":0.94},{"x":0.3,"lo":-1.0,"hi":1.02},{"x":0.35,"lo":-1.12,"hi":1.14},{"x":0.39,"lo":-0.94,"hi":1.02},{"x":0.445,"lo":-1.07,"hi":1.17},{"x":0.49,"lo":-1.02,"hi":1.09},{"x":0.53,"lo":-0.92,"hi":0.97},{"x":0.585,"lo":-1.0,"hi":1.09},{"x":0.64,"lo":-0.87,"hi":1.14},{"x":0.69,"lo":-0.85,"hi":1.09},{"x":0.75,"lo":-0.82,"hi":1.09},{"x":0.79,"lo":-0.85,"hi":0.94},{"x":0.815,"lo":-1.0,"hi":1.24},{"x":0.84,"lo":-1.5,"hi":1.55},{"x":0.87,"lo":-1.7,"hi":1.8},{"x":0.91,"lo":-1.6,"hi":1.8},{"x":0.94,"lo":-1.3,"hi":1.5},{"x":0.965,"lo":-1.45,"hi":1.24},{"x":1.0,"lo":-1.15,"hi":1.34}
],
"b2_red": [
{"x":0.011,"y":-0.97},{"x":0.038,"y":-0.89},{"x":0.065,"y":-0.55},{"x":0.1,"y":0.0},{"x":0.127,"y":0.42},{"x":0.147,"y":0.55},{"x":0.175,"y":0.54},{"x":0.195,"y":0.3},{"x":0.229,"y":-0.3},{"x":0.263,"y":-0.65},{"x":0.29,"y":-0.74},{"x":0.318,"y":-0.55},{"x":0.352,"y":0.0},{"x":0.379,"y":0.65},{"x":0.404,"y":1.49},{"x":0.44,"y":2.6},{"x":0.475,"y":1.49},{"x":0.502,"y":0.75},{"x":0.529,"y":0.25},{"x":0.55,"y":0.12},{"x":0.573,"y":0.0},{"x":0.598,"y":0.22},{"x":0.625,"y":0.45},{"x":0.638,"y":0.47},{"x":0.659,"y":0.15},{"x":0.679,"y":-0.5},{"x":0.707,"y":-1.49},{"x":0.75,"y":-2.8},{"x":0.795,"y":-1.49},{"x":0.809,"y":-0.75},{"x":0.823,"y":0.0},{"x":0.843,"y":0.9},{"x":0.857,"y":1.5},{"x":0.895,"y":2.6},{"x":0.932,"y":1.49},{"x":0.952,"y":1.0},{"x":0.973,"y":0.0},{"x":0.993,"y":-0.65},{"x":1.0,"y":-0.8}
],
"wild2": [
{"x":0.011,"y":-1.25},{"x":0.03,"y":0.1},{"x":0.05,"y":0.05},{"x":0.065,"y":-0.5},{"x":0.08,"y":-1.0},{"x":0.095,"y":0.2},{"x":0.11,"y":-0.3},{"x":0.12,"y":1.9},{"x":0.135,"y":-1.7},{"x":0.15,"y":-1.9},{"x":0.16,"y":0.2},{"x":0.175,"y":0.6},{"x":0.185,"y":-1.6},{"x":0.2,"y":-1.8},{"x":0.21,"y":0.55},{"x":0.22,"y":-0.3},{"x":0.235,"y":1.8},{"x":0.245,"y":-1.2},{"x":0.255,"y":0.9},{"x":0.265,"y":-0.8},{"x":0.272,"y":0.7},{"x":0.28,"y":-0.4},{"x":0.29,"y":0.75},{"x":0.3,"y":-1.1},{"x":0.315,"y":1.8},{"x":0.325,"y":-0.5},{"x":0.335,"y":1.9},{"x":0.35,"y":-0.3},{"x":0.36,"y":0.8},{"x":0.375,"y":-1.7},{"x":0.39,"y":-1.5},{"x":0.4,"y":0.9},{"x":0.41,"y":1.8},{"x":0.42,"y":-1.9},{"x":0.435,"y":1.4},{"x":0.445,"y":-1.2},{"x":0.455,"y":0.5},{"x":0.47,"y":-1.5},{"x":0.48,"y":1.9},{"x":0.495,"y":-1.7},{"x":0.505,"y":1.6},{"x":0.515,"y":-0.8},{"x":0.53,"y":-0.3},{"x":0.545,"y":-1.0},{"x":0.56,"y":-1.4},{"x":0.57,"y":-0.1},{"x":0.58,"y":0.2},{"x":0.59,"y":-1.5},{"x":0.6,"y":0.3},{"x":0.61,"y":-1.1},{"x":0.62,"y":0.9},{"x":0.63,"y":-1.2},{"x":0.64,"y":1.9},{"x":0.65,"y":-1.4},{"x":0.66,"y":1.8},{"x":0.67,"y":-0.9},{"x":0.68,"y":1.3},{"x":0.69,"y":-1.2},{"x":0.7,"y":0.8},{"x":0.71,"y":-0.9},{"x":0.72,"y":1.1},{"x":0.73,"y":-1.4},{"x":0.74,"y":0.6},{"x":0.75,"y":-1.0},{"x":0.76,"y":1.3},{"x":0.77,"y":-1.3},{"x":0.78,"y":0.9},{"x":0.79,"y":-1.6},{"x":0.8,"y":1.2},{"x":0.806,"y":-1.8},{"x":0.812,"y":1.5},{"x":0.82,"y":-0.4},{"x":0.835,"y":-1.6},{"x":0.85,"y":-1.2},{"x":0.87,"y":-1.9},{"x":0.89,"y":-1.7},{"x":0.905,"y":0.8},{"x":0.92,"y":-0.2},{"x":0.935,"y":1.8},{"x":0.945,"y":1.2},{"x":0.955,"y":0.1},{"x":0.965,"y":0.7},{"x":0.975,"y":0.0},{"x":0.985,"y":-0.3},{"x":1.0,"y":-0.9}
],
"b3_band": [
{"x":0.01,"lo":-1.05,"hi":1.05},{"x":0.02,"lo":-1.06,"hi":1.08},{"x":0.1,"lo":-1.05,"hi":1.07},{"x":0.2,"lo":-1.04,"hi":1.05},{"x":0.25,"lo":-1.06,"hi":1.08},{"x":0.3,"lo":-1.05,"hi":1.07},{"x":0.35,"lo":-1.07,"hi":1.1},{"x":0.4,"lo":-1.05,"hi":1.08},{"x":0.45,"lo":-1.08,"hi":1.1},{"x":0.5,"lo":-1.03,"hi":1.08},{"x":0.55,"lo":-1.05,"hi":1.05},{"x":0.6,"lo":-0.95,"hi":0.95},{"x":0.62,"lo":-0.93,"hi":0.95},{"x":0.65,"lo":-1.0,"hi":1.0},{"x":0.7,"lo":-1.03,"hi":1.02},{"x":0.75,"lo":-1.0,"hi":1.0},{"x":0.78,"lo":-1.0,"hi":1.03},{"x":0.8,"lo":-1.02,"hi":1.1},{"x":0.82,"lo":-1.22,"hi":1.25},{"x":0.85,"lo":-1.23,"hi":1.28},{"x":0.88,"lo":-1.25,"hi":1.28},{"x":0.92,"lo":-1.3,"hi":1.35},{"x":0.95,"lo":-1.38,"hi":1.4},{"x":0.98,"lo":-1.3,"hi":1.3},{"x":1.0,"lo":-1.18,"hi":1.2}
],
"full_band": [{"x":0.01,"lo":-3,"hi":3},{"x":1.0,"lo":-3,"hi":3}],
"c3_mean": [
{"x":0.01,"y":0.02},{"x":0.05,"y":0.0},{"x":0.08,"y":0.0},{"x":0.12,"y":0.0},{"x":0.15,"y":0.02},{"x":0.17,"y":-0.03},{"x":0.18,"y":0.06},{"x":0.2,"y":0.02},{"x":0.23,"y":-0.05},{"x":0.25,"y":0.02},{"x":0.28,"y":0.08},{"x":0.3,"y":0.0},{"x":0.33,"y":0.03},{"x":0.35,"y":-0.02},{"x":0.38,"y":0.01},{"x":0.42,"y":-0.02},{"x":0.44,"y":0.0},{"x":0.47,"y":-0.03},{"x":0.5,"y":0.02},{"x":0.53,"y":0.04},{"x":0.56,"y":0.0},{"x":0.59,"y":0.05},{"x":0.6,"y":0.02},{"x":0.62,"y":0.06},{"x":0.64,"y":0.0},{"x":0.66,"y":0.04},{"x":0.68,"y":-0.01},{"x":0.72,"y":0.02},{"x":0.75,"y":0.0},{"x":0.78,"y":0.01},{"x":0.8,"y":0.0},{"x":0.83,"y":-0.06},{"x":0.86,"y":0.06},{"x":0.88,"y":-0.01},{"x":0.9,"y":0.0},{"x":0.93,"y":-0.03},{"x":0.96,"y":0.02},{"x":1.0,"y":0.03}
],
"d2_band": [
{"x":0.01,"lo":-0.8,"hi":0.9},{"x":0.02,"lo":-0.2,"hi":0.1},{"x":0.05,"lo":-0.5,"hi":0.4},{"x":0.1,"lo":-0.4,"hi":0.3},{"x":0.15,"lo":-0.35,"hi":0.2},{"x":0.2,"lo":-0.45,"hi":0.35},{"x":0.25,"lo":-0.3,"hi":0.28},{"x":0.3,"lo":-0.35,"hi":0.4},{"x":0.35,"lo":-0.4,"hi":0.3},{"x":0.4,"lo":-0.35,"hi":0.35},{"x":0.45,"lo":-0.25,"hi":0.3},{"x":0.5,"lo":-0.4,"hi":0.45},{"x":0.55,"lo":-0.3,"hi":0.3},{"x":0.6,"lo":-0.35,"hi":0.35},{"x":0.65,"lo":-0.4,"hi":0.25},{"x":0.7,"lo":-0.3,"hi":0.3},{"x":0.75,"lo":-0.35,"hi":0.45},{"x":0.8,"lo":-0.5,"hi":0.35},{"x":0.85,"lo":-0.4,"hi":0.6},{"x":0.9,"lo":-0.45,"hi":0.5},{"x":0.95,"lo":-0.4,"hi":0.75},{"x":1.0,"lo":-0.35,"hi":0.9}
],
"d2_red": [
{"x":0.01,"y":-0.75},{"x":0.03,"y":0.6},{"x":0.05,"y":0.95},{"x":0.07,"y":0.7},{"x":0.09,"y":0.2},{"x":0.11,"y":-0.3},{"x":0.13,"y":-0.5},{"x":0.15,"y":-0.2},{"x":0.18,"y":0.3},{"x":0.2,"y":0.1},{"x":0.23,"y":-0.2},{"x":0.26,"y":0.0},{"x":0.28,"y":0.3},{"x":0.3,"y":0.2},{"x":0.32,"y":0.7},{"x":0.34,"y":1.05},{"x":0.36,"y":0.6},{"x":0.38,"y":0.0},{"x":0.4,"y":-0.4},{"x":0.42,"y":-0.3},{"x":0.45,"y":0.3},{"x":0.47,"y":0.6},{"x":0.49,"y":0.3},{"x":0.52,"y":-0.3},{"x":0.54,"y":-0.7},{"x":0.56,"y":-0.3},{"x":0.58,"y":0.2},{"x":0.6,"y":0.3},{"x":0.62,"y":0.0},{"x":0.64,"y":-0.2},{"x":0.66,"y":-0.5},{"x":0.68,"y":-0.7},{"x":0.7,"y":-0.4},{"x":0.73,"y":0.0},{"x":0.76,"y":-0.05},{"x":0.78,"y":-0.2},{"x":0.8,"y":0.2},{"x":0.82,"y":0.3},{"x":0.85,"y":0.0},{"x":0.88,"y":-0.1},{"x":0.9,"y":0.3},{"x":0.92,"y":0.8},{"x":0.94,"y":0.5},{"x":0.96,"y":0.1},{"x":0.98,"y":0.6},{"x":1.0,"y":0.3}
],
"d2_green": [
{"x":0.01,"y":-0.8},{"x":0.02,"y":0.3},{"x":0.03,"y":0.6},{"x":0.04,"y":0.1},{"x":0.05,"y":0.5},{"x":0.06,"y":-0.2},{"x":0.07,"y":0.3},{"x":0.09,"y":-0.1},{"x":0.1,"y":0.3},{"x":0.12,"y":-0.6},{"x":0.14,"y":-0.1},{"x":0.16,"y":0.4},{"x":0.18,"y":-0.3},{"x":0.2,"y":0.5},{"x":0.22,"y":-0.1},{"x":0.24,"y":0.2},{"x":0.26,"y":-0.4},{"x":0.28,"y":0.3},{"x":0.3,"y":-0.3},{"x":0.32,"y":0.5},{"x":0.34,"y":-0.2},{"x":0.36,"y":0.3},{"x":0.38,"y":-0.5},{"x":0.4,"y":-0.3},{"x":0.42,"y":-0.8},{"x":0.44,"y":-0.1},{"x":0.46,"y":0.6},{"x":0.48,"y":-0.2},{"x":0.5,"y":-0.6},{"x":0.52,"y":0.1},{"x":0.54,"y":-0.3},{"x":0.56,"y":0.2},{"x":0.58,"y":-0.4},{"x":0.6,"y":0.1},{"x":0.62,"y":-0.2},{"x":0.64,"y":0.4},{"x":0.66,"y":-0.3},{"x":0.68,"y":0.1},{"x":0.7,"y":-0.4},{"x":0.72,"y":0.6},{"x":0.74,"y":-0.2},{"x":0.76,"y":0.3},{"x":0.78,"y":-0.3},{"x":0.8,"y":0.2},{"x":0.82,"y":-0.4},{"x":0.84,"y":0.1},{"x":0.86,"y":-0.3},{"x":0.87,"y":-1.3},{"x":0.88,"y":-0.2},{"x":0.9,"y":0.4},{"x":0.92,"y":0.2},{"x":0.94,"y":0.6},{"x":0.96,"y":-0.1},{"x":0.98,"y":0.5},{"x":1.0,"y":0.1}
],
"d3_band": [
{"x":0.01,"lo":-0.7,"hi":1.0},{"x":0.02,"lo":-0.5,"hi":0.5},{"x":0.05,"lo":-0.35,"hi":0.55},{"x":0.1,"lo":-0.5,"hi":0.45},{"x":0.15,"lo":-0.4,"hi":0.5},{"x":0.2,"lo":-0.45,"hi":0.4},{"x":0.25,"lo":-0.45,"hi":0.45},{"x":0.3,"lo":-0.5,"hi":0.35},{"x":0.35,"lo":-0.45,"hi":0.45},{"x":0.4,"lo":-0.45,"hi":0.4},{"x":0.45,"lo":-0.4,"hi":0.35},{"x":0.5,"lo":-0.55,"hi":0.45},{"x":0.55,"lo":-0.45,"hi":0.4},{"x":0.6,"lo":-0.5,"hi":0.5},{"x":0.65,"lo":-0.4,"hi":0.45},{"x":0.7,"lo":-0.5,"hi":0.4},{"x":0.75,"lo":-0.45,"hi":0.5},{"x":0.8,"lo":-0.5,"hi":0.55},{"x":0.85,"lo":-0.45,"hi":0.45},{"x":0.9,"lo":-0.5,"hi":0.55},{"x":0.95,"lo":-0.6,"hi":0.65},{"x":1.0,"lo":-1.0,"hi":1.05}
]
},
"config": {
 "view": {"stroke": "black", "strokeWidth": 1},
 "font": "Liberation Serif",
 "axis": {"grid": false, "labelFont": "Liberation Serif", "labelFontSize": 9.5, "labelColor": "#333333", "domainColor": "black", "tickColor": "black", "tickSize": 3.5, "tickWidth": 0.8, "labelPadding": 1.5, "labelOverlap": false, "labelFlush": false, "labelBound": false},
 "title": {"font": "DejaVu Serif", "fontSize": 10.5, "fontWeight": "bold", "color": "black", "offset": 2},
 "legend": {"orient": "bottom-right", "offset": 4, "padding": 3, "strokeColor": "#cccccc", "fillColor": "white", "cornerRadius": 2, "labelFont": "Liberation Serif", "labelFontSize": 7.5, "labelColor": "#555555", "rowPadding": 0, "symbolSize": 100, "symbolStrokeWidth": 2, "symbolOffset": 4, "labelOffset": 10}
}
}
